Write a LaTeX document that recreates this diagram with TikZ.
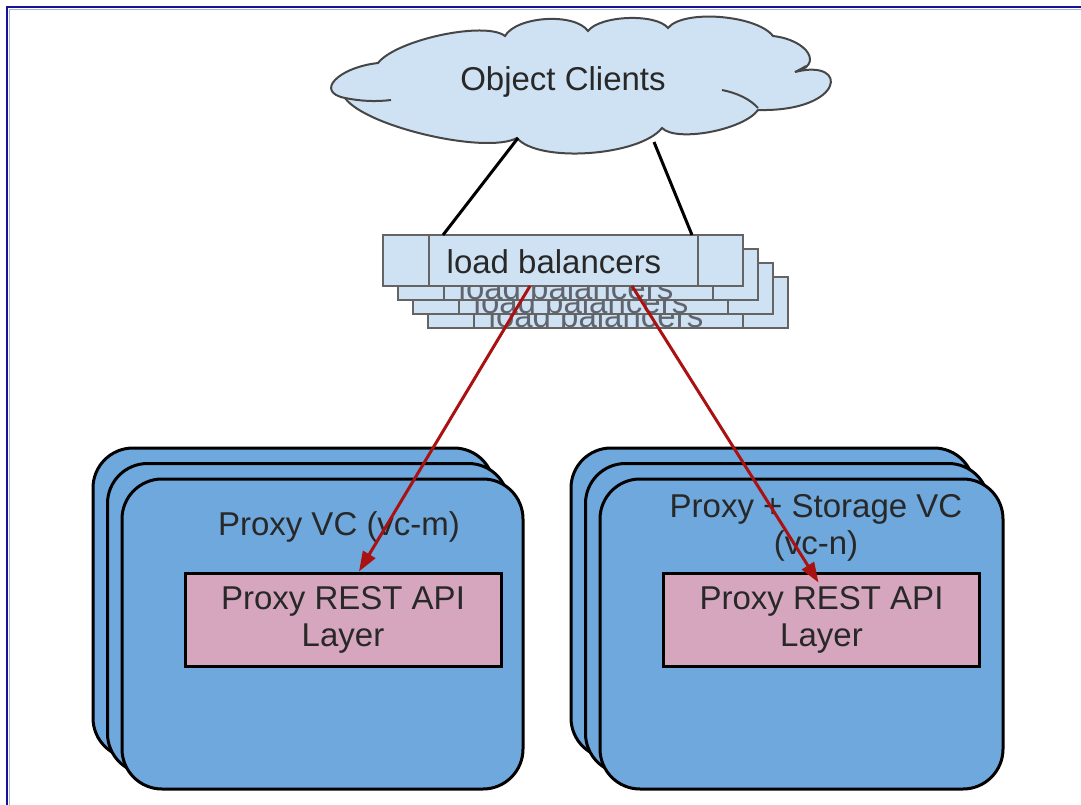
\documentclass[tikz,border=0pt]{standalone}
\usepackage{fontspec}
\setmainfont{Liberation Sans}
\usetikzlibrary{arrows.meta}
\definecolor{cloudfill}{RGB}{207,226,243}
\definecolor{clouddraw}{RGB}{70,70,70}
\definecolor{vcfill}{RGB}{111,168,220}
\definecolor{apifill}{RGB}{213,166,189}
\definecolor{arrowred}{RGB}{170,17,17}
\definecolor{txt}{RGB}{40,40,40}
\definecolor{ghost}{RGB}{95,100,110}
\definecolor{framebl}{RGB}{20,20,150}
\definecolor{framelt}{RGB}{175,175,220}
\definecolor{lbdraw}{RGB}{100,100,100}
\begin{document}
\begin{tikzpicture}[x=1pt,y=-1pt,
  every node/.style={text=txt, font=\fontsize{33}{37}\selectfont},
  vcbox/.style={draw=black, line width=3pt, fill=vcfill, rounded corners=40pt,
    minimum height=310pt, inner sep=0pt, outer sep=0pt, anchor=north west},
  lbbox/.style={draw=lbdraw, line width=2pt, fill=cloudfill,
    minimum width=360pt, minimum height=51pt, inner sep=0pt, outer sep=0pt, anchor=north west},
  lbline/.style={draw=lbdraw, line width=2pt},
  lbtext/.style={inner sep=0pt},
  apibox/.style={draw=black, line width=3pt, fill=apifill, minimum width=316pt,
    minimum height=93pt, inner sep=0pt, align=center},
  cloudline/.style={draw=clouddraw, line width=2pt},
  link/.style={draw=black, line width=3pt},
  redarrow/.style={draw=arrowred, line width=3pt, -{Triangle[length=20pt,width=14pt]}}
]
\useasboundingbox (0,0) rectangle (1081,805);
% frame
\draw[framebl, line width=2.5pt] (1081,7) -- (7,7) -- (7,805);
\draw[framelt, line width=1pt] (1081,9.5) -- (9.5,9.5) -- (9.5,805);

% cloud
\path[cloudline, fill=cloudfill]
  (345,98) .. controls (314.7,92) and (337.7,67.6) .. (378,63)
  .. controls (396.3,39.7) and (485.3,20.7) .. (505,36)
  .. controls (516.8,16) and (574.8,12.5) .. (588,31)
  .. controls (600,15.3) and (656,13.1) .. (668,28)
  .. controls (683,9.2) and (756.5,14.8) .. (773,36)
  .. controls (808.3,40.1) and (823.7,65.3) .. (795,72)
  .. controls (850,58) and (845,112) .. (758,110)
  .. controls (743.6,130) and (676.4,142.6) .. (662,128)
  .. controls (639.5,156.2) and (538.1,163.2) .. (517,138)
  .. controls (485.9,154.7) and (365.5,126.7) .. (345,98) -- cycle;
\draw[cloudline] (345,98) .. controls (360,101) and (375,102) .. (391,100);
\draw[cloudline] (722,90) .. controls (737,93) and (750,99) .. (758,108);
\draw[cloudline] (795,72) .. controls (799,70) and (803,68) .. (806,66);
\node[lbtext] (cloud) at (563,82) {Object Clients};

% load balancer stack
\foreach \i/\x/\y in {4/428/277, 3/413/263, 2/398/249}{
  \node[lbbox] (lb\i) at (\x,\y) {};
  \begin{scope}
    \clip ([shift={(1pt,1pt)}]lb\i.south west) rectangle ([shift={(-1pt,-1pt)}]lb\i.north east);
    \node[lbtext, text=ghost] (lbt\i) at ([xshift=-12pt,yshift=-13pt]lb\i.center) {load balancers};
  \end{scope}
  \draw[lbline] ([xshift=46pt]lb\i.north west) -- ([xshift=46pt]lb\i.south west);
  \draw[lbline] ([xshift=-45pt]lb\i.north east) -- ([xshift=-45pt]lb\i.south east);
}
\node[lbbox] (lb1) at (383,235) {};
\node[lbtext] (lbt1) at ([xshift=-9pt,yshift=-1pt]lb1.center) {load balancers};
\draw[lbline] ([xshift=46pt]lb1.north west) -- ([xshift=46pt]lb1.south west);
\draw[lbline] ([xshift=-45pt]lb1.north east) -- ([xshift=-45pt]lb1.south east);

% cloud to load balancers
\coordinate (cl) at ([shift={(-45,56)}]cloud.center);
\coordinate (cr) at ([shift={(91,60)}]cloud.center);
\draw[link] (cl) -- ([xshift=-120pt]lb1.north);
\draw[link] (cr) -- ([xshift=129pt]lb1.north);

% left VC stack
\node[vcbox, minimum width=401pt] (vcl3) at (93,448) {};
\node[vcbox, minimum width=401pt] (vcl2) at (107.5,463.5) {};
\node[vcbox, minimum width=401pt] (vcl1) at (122,479) {};
% right VC stack
\node[vcbox, minimum width=403pt] (vcr3) at (571,448) {};
\node[vcbox, minimum width=403pt] (vcr2) at (585.5,463.5) {};
\node[vcbox, minimum width=403pt] (vcr1) at (600,479) {};

\node[lbtext] (vcltext) at (339,527) {Proxy VC (vc-m)};
\node[lbtext, align=center] (vcrtext) at (816,528) {Proxy + Storage VC\\(vc-n)};

\node[apibox] (apil) at (343,619.5) {Proxy REST API\\Layer};
\node[apibox] (apir) at (821.5,619.5) {Proxy REST API\\Layer};

% red arrows
\draw[redarrow] ([xshift=-33pt]lb1.south) -- ([xshift=16pt]apil.north);
\draw[redarrow] ([xshift=69pt]lb1.south) -- ([xshift=-3pt,yshift=-11pt]apir.north);
\end{tikzpicture}
\end{document}
